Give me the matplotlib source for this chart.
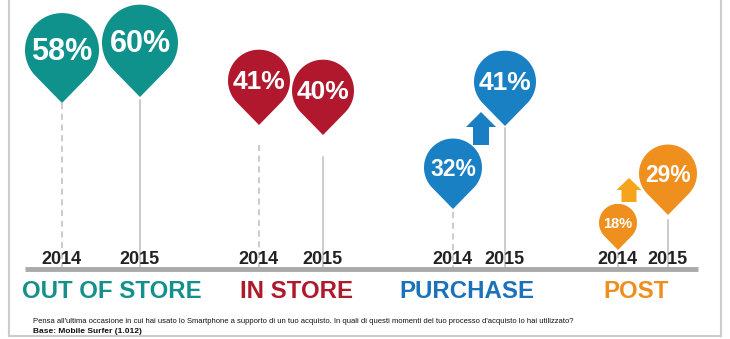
import numpy as np
import matplotlib.pyplot as plt
from matplotlib.patches import Polygon, FancyArrow

plt.rcParams['font.family'] = ['Liberation Sans', 'DejaVu Sans']

# data
categories = ['OUT OF STORE', 'IN STORE', 'PURCHASE', 'POST']
years = ['2014', '2015']
share_2014 = [58, 41, 32, 18]
share_2015 = [60, 40, 41, 29]
colors = ['#0f918c', '#b2182d', '#1a80c4', '#ef901e']
label_colors = ['#13908b', '#ad1a2c', '#1b72bb', '#ef8d1f']
arrow_colors = ['#1a80c4', '#1a80c4', '#1a7fc2', '#f5a51d']
question = ("Pensa all'ultima occasione in cui hai usato lo Smartphone a supporto di un tuo acquisto. "
            "In quali di questi momenti del tuo processo d'acquisto lo hai utilizzato?")
base = 'Base: Mobile Surfer (1.012)'

# layout (pixel space, infographic is not to scale)
pin_x = [[62, 140], [259, 323], [453, 505], [618, 668]]
pin_tip = [[103, 97], [125, 135], [209, 126], [250, 215]]
pin_r = [[37, 38], [31, 31], [29, 31], [19, 29]]
pin_fs = [[22, 22], [19, 19], [16.5, 19], [10.5, 16.5]]
line_top = [[103, 100], [145, 157], [212, 128], [252, 220]]
cat_x = [112, 297, 467, 636]
arrow_xy = [None, None, (481, 145, 112), (629, 202, 178)]
arrow_w = [None, None, (16, 30, 15), (15, 25, 12)]
base_y = 269


def pin(ax, cx, tip, r, color):
    d = 1.43 * r
    cy = tip - d
    a = np.degrees(np.arccos(r / d))
    t = np.radians(np.linspace(-90 + a, 270 - a, 80))
    pts = np.column_stack([cx + r * np.cos(t), cy - r * np.sin(t)])
    pts = np.vstack([pts, [cx, tip]])
    ax.add_patch(Polygon(pts, closed=True, facecolor=color, edgecolor='none', zorder=3))
    return cy


fig = plt.figure(figsize=(7.3, 3.39), dpi=100)
ax = fig.add_axes([0, 0, 1, 1])
ax.set_xlim(0, 730)
ax.set_ylim(339, 0)
ax.axis('off')

# frame
ax.plot([9, 9], [0, 336], color='#cccccc', lw=1.5)
ax.plot([721, 721], [0, 336], color='#cccccc', lw=1.5)
ax.plot([9, 721], [336, 336], color='#cccccc', lw=1.5)

ax.plot([25, 698], [base_y, base_y], color='#aaaaaa', lw=3.5, solid_capstyle='butt', zorder=2)

for i, cat in enumerate(categories):
    vals = [share_2014[i], share_2015[i]]
    for j in range(2):
        x = pin_x[i][j]
        ax.plot([x, x], [line_top[i][j], base_y - 2], color='#bdbdbd', lw=1.1,
                ls=(0, (4, 3)) if j == 0 else '-', zorder=1)
        cy = pin(ax, x, pin_tip[i][j], pin_r[i][j], colors[i])
        ax.text(x, cy + 1.5, f'{vals[j]}%', color='white', fontsize=pin_fs[i][j],
                fontweight='bold', ha='center', va='center', zorder=4)
        ax.text(x - 1, 259, years[j], color='#222222', fontsize=13, fontweight='bold',
                ha='center', va='center', zorder=4)
    if vals[1] - vals[0] > 5:
        ax_, y0, y1 = arrow_xy[i]
        w, hw, hl = arrow_w[i]
        ax.add_patch(FancyArrow(ax_, y0, 0, y1 - y0, width=w, head_width=hw, head_length=hl,
                                length_includes_head=True, color=arrow_colors[i], lw=0, zorder=3))
    ax.text(cat_x[i], 291, cat, color=label_colors[i], fontsize=17.3, fontweight='bold',
            ha='center', va='center')

ax.text(33, 321.5, question, fontsize=5.5, color='#111111', ha='left', va='center')
ax.text(33, 331.5, base, fontsize=6, fontweight='bold', color='#111111', ha='left', va='center')

fig.savefig('out.png', dpi=100)
